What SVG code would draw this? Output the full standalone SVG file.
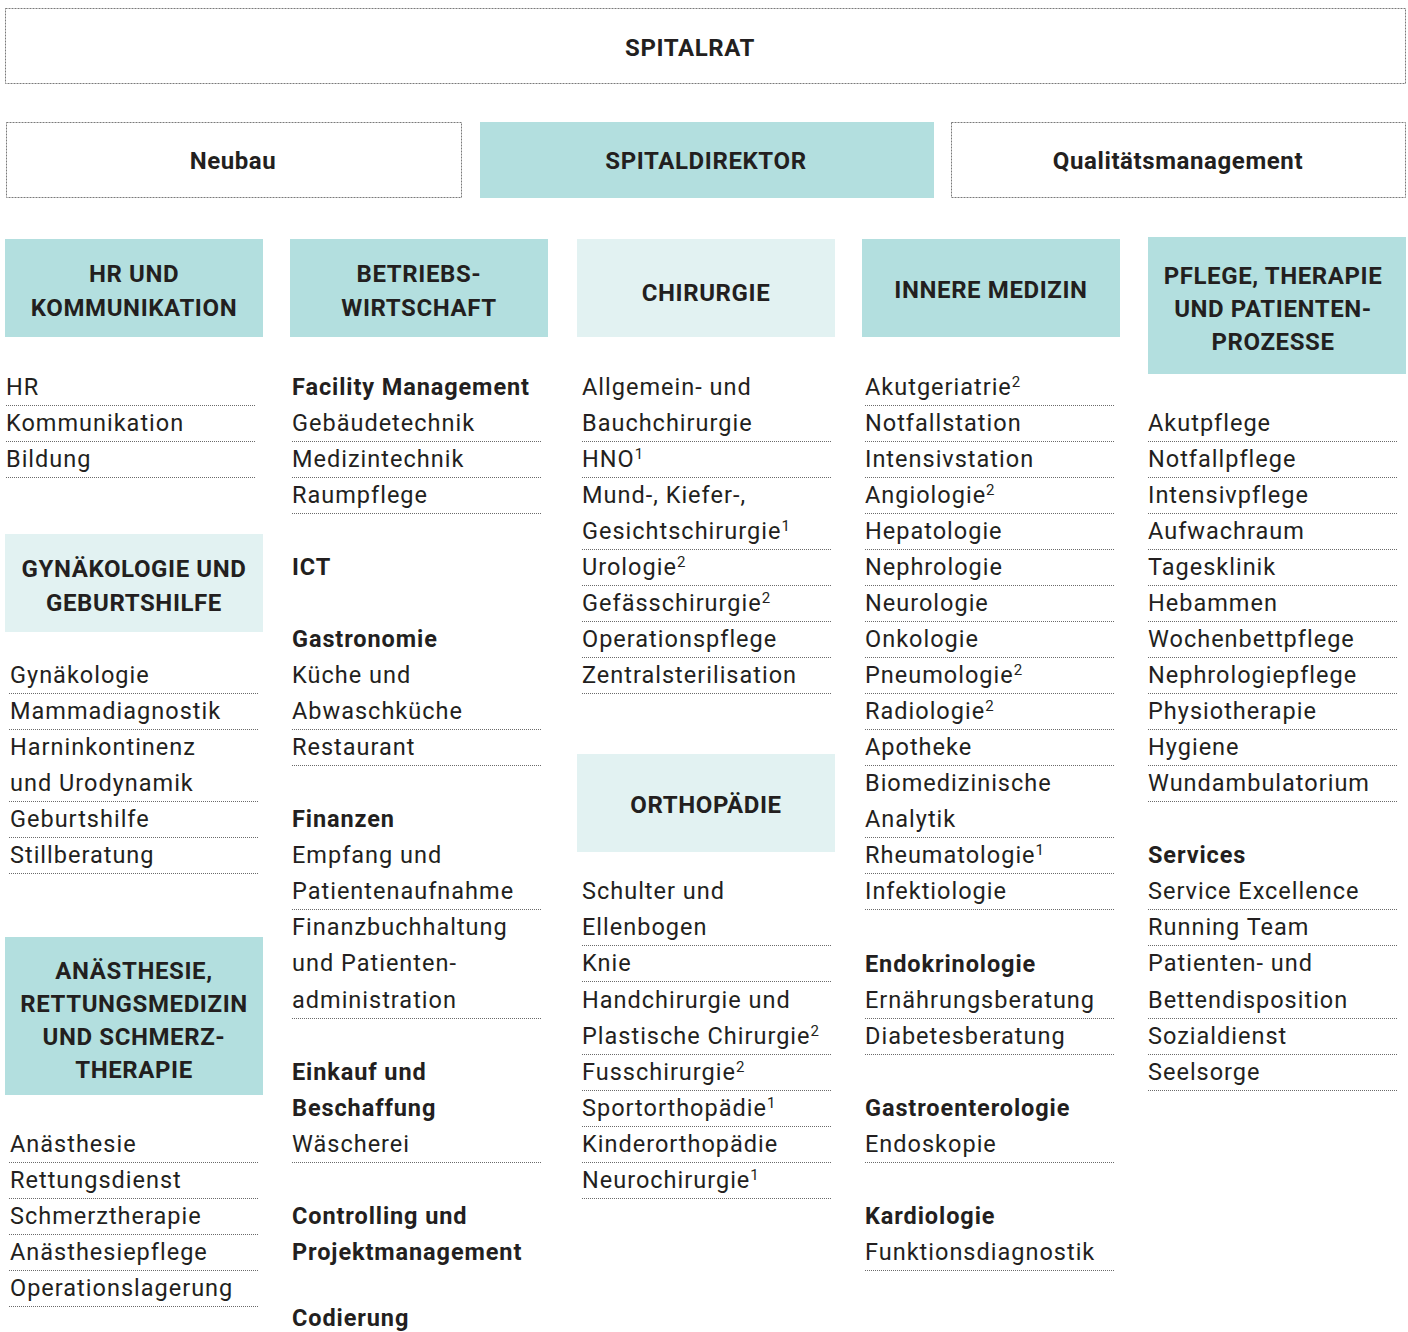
<svg xmlns="http://www.w3.org/2000/svg" width="1408" height="1332" viewBox="0 0 1408 1332">
<style>
text{font-family:Roboto,"Liberation Sans",sans-serif;fill:#231f20}
.h{font-weight:700;font-size:24px;letter-spacing:0.6px;text-anchor:middle}
.it{font-size:23.5px;letter-spacing:1px}
.ib{font-size:23.5px;font-weight:700;letter-spacing:0.9px}
.sup{font-size:15px;letter-spacing:0}
.ln{stroke:#6a6a6a;stroke-width:1;stroke-dasharray:1 1;fill:none}
.bx{stroke:#7a7a7a;stroke-width:1;stroke-dasharray:2 1;fill:#fff}
.f1{fill:#b3dfdf}
.f2{fill:#e2f2f2}
</style>
<rect width="1408" height="1332" fill="#fff"/>
<g id="connectors"/>
<g id="spitalrat"><rect class="bx" x="5.5" y="8.5" width="1400" height="75"/><text class="h" x="690" y="56">SPITALRAT</text></g>
<g id="neubau"><rect class="bx" x="6.5" y="122.5" width="455" height="75"/><text class="h" x="233" y="169">Neubau</text></g>
<g id="spitaldirektor"><rect class="f1" x="480" y="122" width="454" height="76"/><text class="h" x="706" y="169">SPITALDIREKTOR</text></g>
<g id="qualitaet"><rect class="bx" x="951.5" y="122.5" width="454" height="75"/><text class="h" x="1178" y="169">Qualitätsmanagement</text></g>

<g id="hr-head"><rect class="f1" x="5" y="239" width="258" height="98"/><text class="h" x="134" y="282">HR UND</text><text class="h" x="134" y="316">KOMMUNIKATION</text></g>
<g id="bw-head"><rect class="f1" x="290" y="239" width="258" height="98"/><text class="h" x="419" y="282">BETRIEBS-</text><text class="h" x="419" y="316">WIRTSCHAFT</text></g>
<g id="chir-head"><rect class="f2" x="577" y="239" width="258" height="98"/><text class="h" x="706" y="301">CHIRURGIE</text></g>
<g id="im-head"><rect class="f1" x="862" y="239" width="258" height="98"/><text class="h" x="991" y="298">INNERE MEDIZIN</text></g>
<g id="pflege-head"><rect class="f1" x="1148" y="237" width="258" height="137"/><text class="h" x="1273" y="284">PFLEGE, THERAPIE</text><text class="h" x="1273" y="317">UND PATIENTEN-</text><text class="h" x="1273" y="350">PROZESSE</text></g>
<g id="gyn-head"><rect class="f2" x="5" y="534" width="258" height="98"/><text class="h" x="134" y="577">GYNÄKOLOGIE UND</text><text class="h" x="134" y="611">GEBURTSHILFE</text></g>
<g id="an-head"><rect class="f1" x="5" y="937" width="258" height="158"/><text class="h" x="134" y="979">ANÄSTHESIE,</text><text class="h" x="134" y="1012">RETTUNGSMEDIZIN</text><text class="h" x="134" y="1045">UND SCHMERZ-</text><text class="h" x="134" y="1078">THERAPIE</text></g>
<g id="ortho-head"><rect class="f2" x="577" y="754" width="258" height="98"/><text class="h" x="706" y="813">ORTHOPÄDIE</text></g>

<g id="hr-list">
<text class="it" x="6" y="395">HR</text><line class="ln" x1="6" y1="405.5" x2="256" y2="405.5"/>
<text class="it" x="6" y="431">Kommunikation</text><line class="ln" x1="6" y1="441.5" x2="256" y2="441.5"/>
<text class="it" x="6" y="467">Bildung</text><line class="ln" x1="6" y1="477.5" x2="256" y2="477.5"/>
</g>
<g id="gyn-list">
<text class="it" x="10" y="683">Gynäkologie</text><line class="ln" x1="9" y1="693.5" x2="259" y2="693.5"/>
<text class="it" x="10" y="719">Mammadiagnostik</text><line class="ln" x1="9" y1="729.5" x2="259" y2="729.5"/>
<text class="it" x="10" y="755">Harninkontinenz</text>
<text class="it" x="10" y="791">und Urodynamik</text><line class="ln" x1="9" y1="801.5" x2="259" y2="801.5"/>
<text class="it" x="10" y="827">Geburtshilfe</text><line class="ln" x1="9" y1="837.5" x2="259" y2="837.5"/>
<text class="it" x="10" y="863">Stillberatung</text><line class="ln" x1="9" y1="873.5" x2="259" y2="873.5"/>
</g>
<g id="an-list">
<text class="it" x="10" y="1152">Anästhesie</text><line class="ln" x1="9" y1="1162.5" x2="259" y2="1162.5"/>
<text class="it" x="10" y="1188">Rettungsdienst</text><line class="ln" x1="9" y1="1198.5" x2="259" y2="1198.5"/>
<text class="it" x="10" y="1224">Schmerztherapie</text><line class="ln" x1="9" y1="1234.5" x2="259" y2="1234.5"/>
<text class="it" x="10" y="1260">Anästhesiepflege</text><line class="ln" x1="9" y1="1270.5" x2="259" y2="1270.5"/>
<text class="it" x="10" y="1296">Operationslagerung</text><line class="ln" x1="9" y1="1306.5" x2="259" y2="1306.5"/>
</g>

<g id="bw-list">
<text class="ib" x="292" y="395">Facility Management</text>
<text class="it" x="292" y="431">Gebäudetechnik</text><line class="ln" x1="292" y1="441.5" x2="542" y2="441.5"/>
<text class="it" x="292" y="467">Medizintechnik</text><line class="ln" x1="292" y1="477.5" x2="542" y2="477.5"/>
<text class="it" x="292" y="503">Raumpflege</text><line class="ln" x1="292" y1="513.5" x2="542" y2="513.5"/>
<text class="ib" x="292" y="575">ICT</text>
<text class="ib" x="292" y="647">Gastronomie</text>
<text class="it" x="292" y="683">Küche und</text>
<text class="it" x="292" y="719">Abwaschküche</text><line class="ln" x1="292" y1="729.5" x2="542" y2="729.5"/>
<text class="it" x="292" y="755">Restaurant</text><line class="ln" x1="292" y1="765.5" x2="542" y2="765.5"/>
<text class="ib" x="292" y="827">Finanzen</text>
<text class="it" x="292" y="863">Empfang und</text>
<text class="it" x="292" y="899">Patientenaufnahme</text><line class="ln" x1="292" y1="909.5" x2="542" y2="909.5"/>
<text class="it" x="292" y="935">Finanzbuchhaltung</text>
<text class="it" x="292" y="971">und Patienten-</text>
<text class="it" x="292" y="1008">administration</text><line class="ln" x1="292" y1="1018.5" x2="542" y2="1018.5"/>
<text class="ib" x="292" y="1080">Einkauf und</text>
<text class="ib" x="292" y="1116">Beschaffung</text>
<text class="it" x="292" y="1152">Wäscherei</text><line class="ln" x1="292" y1="1162.5" x2="542" y2="1162.5"/>
<text class="ib" x="292" y="1224">Controlling und</text>
<text class="ib" x="292" y="1260">Projektmanagement</text>
<text class="ib" x="292" y="1326">Codierung</text>
</g>

<g id="chir-list">
<text class="it" x="582" y="395">Allgemein- und</text>
<text class="it" x="582" y="431">Bauchchirurgie</text><line class="ln" x1="582" y1="441.5" x2="832" y2="441.5"/>
<text class="it" x="582" y="467">HNO<tspan class="sup" dy="-8">1</tspan></text><line class="ln" x1="582" y1="477.5" x2="832" y2="477.5"/>
<text class="it" x="582" y="503">Mund-, Kiefer-,</text>
<text class="it" x="582" y="539">Gesichtschirurgie<tspan class="sup" dy="-8">1</tspan></text><line class="ln" x1="582" y1="549.5" x2="832" y2="549.5"/>
<text class="it" x="582" y="575">Urologie<tspan class="sup" dy="-8">2</tspan></text><line class="ln" x1="582" y1="585.5" x2="832" y2="585.5"/>
<text class="it" x="582" y="611">Gefässchirurgie<tspan class="sup" dy="-8">2</tspan></text><line class="ln" x1="582" y1="621.5" x2="832" y2="621.5"/>
<text class="it" x="582" y="647">Operationspflege</text><line class="ln" x1="582" y1="657.5" x2="832" y2="657.5"/>
<text class="it" x="582" y="683">Zentralsterilisation</text><line class="ln" x1="582" y1="693.5" x2="832" y2="693.5"/>
</g>
<g id="ortho-list">
<text class="it" x="582" y="899">Schulter und</text>
<text class="it" x="582" y="935">Ellenbogen</text><line class="ln" x1="582" y1="945.5" x2="832" y2="945.5"/>
<text class="it" x="582" y="971">Knie</text><line class="ln" x1="582" y1="981.5" x2="832" y2="981.5"/>
<text class="it" x="582" y="1008">Handchirurgie und</text>
<text class="it" x="582" y="1044">Plastische Chirurgie<tspan class="sup" dy="-8">2</tspan></text><line class="ln" x1="582" y1="1054.5" x2="832" y2="1054.5"/>
<text class="it" x="582" y="1080">Fusschirurgie<tspan class="sup" dy="-8">2</tspan></text><line class="ln" x1="582" y1="1090.5" x2="832" y2="1090.5"/>
<text class="it" x="582" y="1116">Sportorthopädie<tspan class="sup" dy="-8">1</tspan></text><line class="ln" x1="582" y1="1126.5" x2="832" y2="1126.5"/>
<text class="it" x="582" y="1152">Kinderorthopädie</text><line class="ln" x1="582" y1="1162.5" x2="832" y2="1162.5"/>
<text class="it" x="582" y="1188">Neurochirurgie<tspan class="sup" dy="-8">1</tspan></text><line class="ln" x1="582" y1="1198.5" x2="832" y2="1198.5"/>
</g>

<g id="im-list">
<text class="it" x="865" y="395">Akutgeriatrie<tspan class="sup" dy="-8">2</tspan></text><line class="ln" x1="865" y1="405.5" x2="1115" y2="405.5"/>
<text class="it" x="865" y="431">Notfallstation</text><line class="ln" x1="865" y1="441.5" x2="1115" y2="441.5"/>
<text class="it" x="865" y="467">Intensivstation</text><line class="ln" x1="865" y1="477.5" x2="1115" y2="477.5"/>
<text class="it" x="865" y="503">Angiologie<tspan class="sup" dy="-8">2</tspan></text><line class="ln" x1="865" y1="513.5" x2="1115" y2="513.5"/>
<text class="it" x="865" y="539">Hepatologie</text><line class="ln" x1="865" y1="549.5" x2="1115" y2="549.5"/>
<text class="it" x="865" y="575">Nephrologie</text><line class="ln" x1="865" y1="585.5" x2="1115" y2="585.5"/>
<text class="it" x="865" y="611">Neurologie</text><line class="ln" x1="865" y1="621.5" x2="1115" y2="621.5"/>
<text class="it" x="865" y="647">Onkologie</text><line class="ln" x1="865" y1="657.5" x2="1115" y2="657.5"/>
<text class="it" x="865" y="683">Pneumologie<tspan class="sup" dy="-8">2</tspan></text><line class="ln" x1="865" y1="693.5" x2="1115" y2="693.5"/>
<text class="it" x="865" y="719">Radiologie<tspan class="sup" dy="-8">2</tspan></text><line class="ln" x1="865" y1="729.5" x2="1115" y2="729.5"/>
<text class="it" x="865" y="755">Apotheke</text><line class="ln" x1="865" y1="765.5" x2="1115" y2="765.5"/>
<text class="it" x="865" y="791">Biomedizinische</text>
<text class="it" x="865" y="827">Analytik</text><line class="ln" x1="865" y1="837.5" x2="1115" y2="837.5"/>
<text class="it" x="865" y="863">Rheumatologie<tspan class="sup" dy="-8">1</tspan></text><line class="ln" x1="865" y1="873.5" x2="1115" y2="873.5"/>
<text class="it" x="865" y="899">Infektiologie</text><line class="ln" x1="865" y1="909.5" x2="1115" y2="909.5"/>
<text class="ib" x="865" y="972">Endokrinologie</text>
<text class="it" x="865" y="1008">Ernährungsberatung</text><line class="ln" x1="865" y1="1018.5" x2="1115" y2="1018.5"/>
<text class="it" x="865" y="1044">Diabetesberatung</text><line class="ln" x1="865" y1="1054.5" x2="1115" y2="1054.5"/>
<text class="ib" x="865" y="1116">Gastroenterologie</text>
<text class="it" x="865" y="1152">Endoskopie</text><line class="ln" x1="865" y1="1162.5" x2="1115" y2="1162.5"/>
<text class="ib" x="865" y="1224">Kardiologie</text>
<text class="it" x="865" y="1260">Funktionsdiagnostik</text><line class="ln" x1="865" y1="1270.5" x2="1115" y2="1270.5"/>
</g>

<g id="pflege-list">
<text class="it" x="1148" y="431">Akutpflege</text><line class="ln" x1="1148" y1="441.5" x2="1398" y2="441.5"/>
<text class="it" x="1148" y="467">Notfallpflege</text><line class="ln" x1="1148" y1="477.5" x2="1398" y2="477.5"/>
<text class="it" x="1148" y="503">Intensivpflege</text><line class="ln" x1="1148" y1="513.5" x2="1398" y2="513.5"/>
<text class="it" x="1148" y="539">Aufwachraum</text><line class="ln" x1="1148" y1="549.5" x2="1398" y2="549.5"/>
<text class="it" x="1148" y="575">Tagesklinik</text><line class="ln" x1="1148" y1="585.5" x2="1398" y2="585.5"/>
<text class="it" x="1148" y="611">Hebammen</text><line class="ln" x1="1148" y1="621.5" x2="1398" y2="621.5"/>
<text class="it" x="1148" y="647">Wochenbettpflege</text><line class="ln" x1="1148" y1="657.5" x2="1398" y2="657.5"/>
<text class="it" x="1148" y="683">Nephrologiepflege</text><line class="ln" x1="1148" y1="693.5" x2="1398" y2="693.5"/>
<text class="it" x="1148" y="719">Physiotherapie</text><line class="ln" x1="1148" y1="729.5" x2="1398" y2="729.5"/>
<text class="it" x="1148" y="755">Hygiene</text><line class="ln" x1="1148" y1="765.5" x2="1398" y2="765.5"/>
<text class="it" x="1148" y="791">Wundambulatorium</text><line class="ln" x1="1148" y1="801.5" x2="1398" y2="801.5"/>
<text class="ib" x="1148" y="863">Services</text>
<text class="it" x="1148" y="899">Service Excellence</text><line class="ln" x1="1148" y1="909.5" x2="1398" y2="909.5"/>
<text class="it" x="1148" y="935">Running Team</text><line class="ln" x1="1148" y1="945.5" x2="1398" y2="945.5"/>
<text class="it" x="1148" y="971">Patienten- und</text>
<text class="it" x="1148" y="1008">Bettendisposition</text><line class="ln" x1="1148" y1="1018.5" x2="1398" y2="1018.5"/>
<text class="it" x="1148" y="1044">Sozialdienst</text><line class="ln" x1="1148" y1="1054.5" x2="1398" y2="1054.5"/>
<text class="it" x="1148" y="1080">Seelsorge</text><line class="ln" x1="1148" y1="1090.5" x2="1398" y2="1090.5"/>
</g>
</svg>
